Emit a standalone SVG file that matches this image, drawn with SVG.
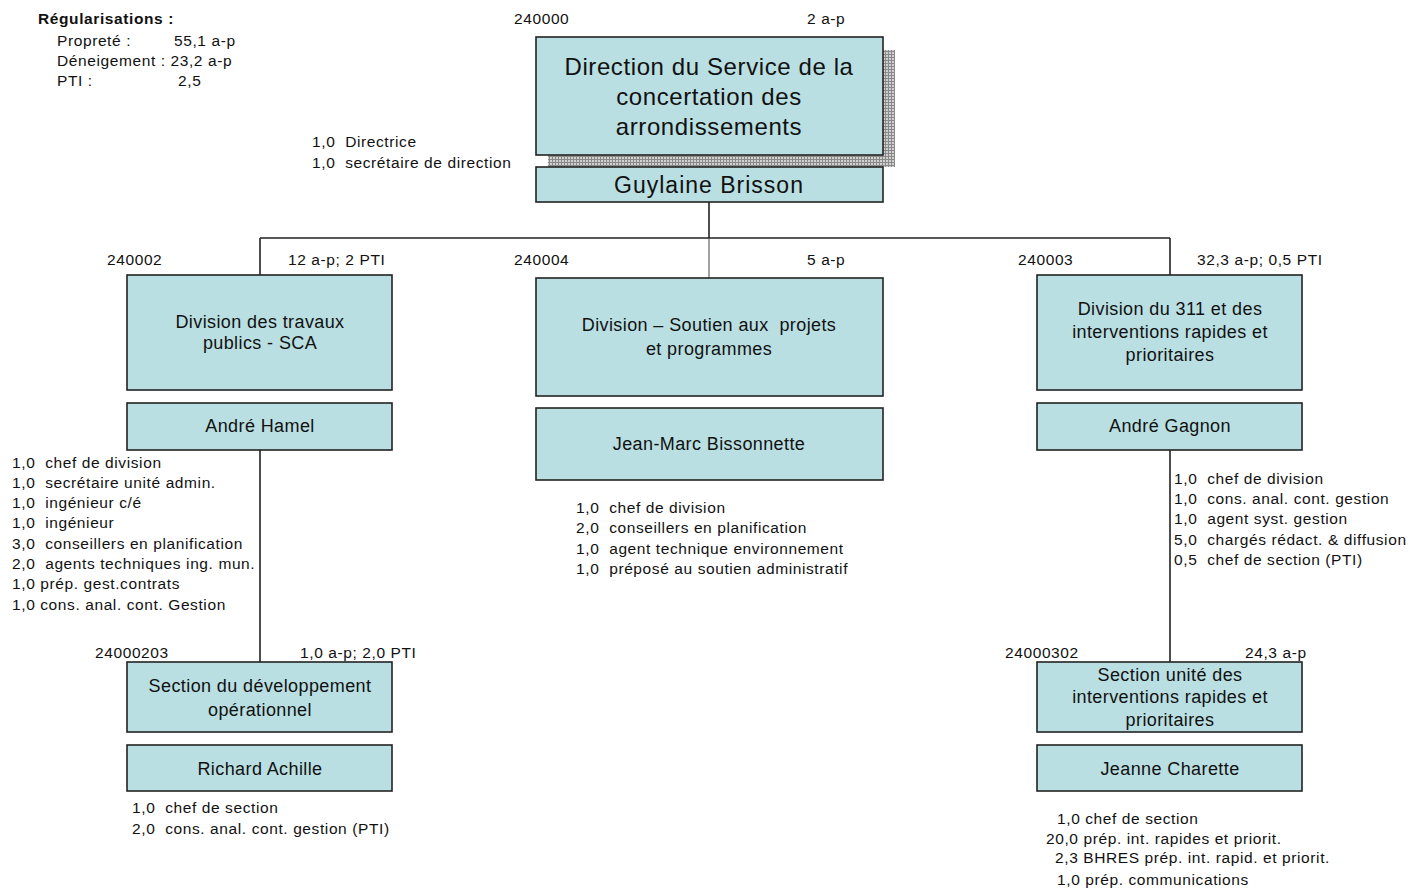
<svg xmlns="http://www.w3.org/2000/svg" width="1410" height="889" viewBox="0 0 1410 889" xml:space="preserve">
<defs>
<pattern id="hatch" width="3" height="3" patternUnits="userSpaceOnUse">
<rect width="3" height="3" fill="#d0d0d0"/>
<path d="M0 0.5H3M0.5 0V3" stroke="#8a8a8a" stroke-width="1"/>
</pattern>
</defs>
<style>
text{font-family:"Liberation Sans",Arial,sans-serif;fill:#111;white-space:pre}
.s{font-size:15.5px;letter-spacing:0.6px}
.b{font-weight:bold}
.m{text-anchor:middle}
.box{fill:#b9dfe2;stroke:#222;stroke-width:1.6}
.t1{font-size:24px;letter-spacing:0.6px}
.t2{font-size:23px;letter-spacing:1px}
.d{font-size:18px;letter-spacing:0.4px}
.c{stroke:#222;stroke-width:1.6;fill:none}
</style>
<rect width="1410" height="889" fill="#fff"/>
<g id="regularisations"><text class="s b" x="38" y="24">Régularisations :</text><text class="s" x="57" y="46">Propreté :</text><text class="s" x="174" y="46">55,1 a-p</text><text class="s" x="57" y="66">Déneigement : 23,2 a-p</text><text class="s" x="57" y="86">PTI :</text><text class="s" x="178" y="86">2,5</text></g>
<g id="connectors"><path class="c" d="M709 202V238M260 238H1170M260 238V275M1170 238V275M260 450V662M1170 450V662"/><path d="M709 238V278" stroke="#444" stroke-width="1" fill="none"/></g>
<g id="direction"><text class="s" x="514" y="24">240000</text><text class="s" x="807" y="24">2 a-p</text><rect x="548" y="50" width="347" height="117" fill="url(#hatch)"/><rect class="box" x="536" y="37" width="347" height="118"/><text class="t1 m" x="709" y="75">Direction du Service de la</text><text class="t1 m" x="709" y="105">concertation des</text><text class="t1 m" x="709" y="135">arrondissements</text><text class="s" x="312" y="147">1,0  Directrice</text><text class="s" x="312" y="168">1,0  secrétaire de direction</text></g>
<g id="guylaine"><rect class="box" x="536" y="167" width="347" height="35"/><text class="t2 m" x="709" y="193">Guylaine Brisson</text></g>
<g id="div-240002"><text class="s" x="107" y="265">240002</text><text class="s" x="288" y="265">12 a-p; 2 PTI</text><rect class="box" x="127" y="275" width="265" height="115"/><text class="d m" x="260" y="328">Division des travaux</text><text class="d m" x="260" y="349">publics - SCA</text></g>
<g id="andre-hamel"><rect class="box" x="127" y="403" width="265" height="47"/><text class="d m" x="260" y="432">André Hamel</text><text class="s" x="12" y="468">1,0  chef de division</text><text class="s" x="12" y="488">1,0  secrétaire unité admin.</text><text class="s" x="12" y="508">1,0  ingénieur c/é</text><text class="s" x="12" y="528">1,0  ingénieur</text><text class="s" x="12" y="549">3,0  conseillers en planification</text><text class="s" x="12" y="569">2,0  agents techniques ing. mun.</text><text class="s" x="12" y="589">1,0 prép. gest.contrats</text><text class="s" x="12" y="610">1,0 cons. anal. cont. Gestion</text></g>
<g id="div-240004"><text class="s" x="514" y="265">240004</text><text class="s" x="807" y="265">5 a-p</text><rect class="box" x="536" y="278" width="347" height="118"/><text class="d m" x="709" y="331">Division – Soutien aux  projets</text><text class="d m" x="709" y="355">et programmes</text></g>
<g id="jean-marc"><rect class="box" x="536" y="408" width="347" height="72"/><text class="d m" x="709" y="450">Jean-Marc Bissonnette</text><text class="s" x="576" y="513">1,0  chef de division</text><text class="s" x="576" y="533">2,0  conseillers en planification</text><text class="s" x="576" y="554">1,0  agent technique environnement</text><text class="s" x="576" y="574">1,0  préposé au soutien administratif</text></g>
<g id="div-240003"><text class="s" x="1018" y="265">240003</text><text class="s" x="1197" y="265">32,3 a-p; 0,5 PTI</text><rect class="box" x="1037" y="275" width="265" height="115"/><text class="d m" x="1170" y="315">Division du 311 et des</text><text class="d m" x="1170" y="338">interventions rapides et</text><text class="d m" x="1170" y="361">prioritaires</text></g>
<g id="andre-gagnon"><rect class="box" x="1037" y="403" width="265" height="47"/><text class="d m" x="1170" y="432">André Gagnon</text><text class="s" x="1174" y="484">1,0  chef de division</text><text class="s" x="1174" y="504">1,0  cons. anal. cont. gestion</text><text class="s" x="1174" y="524">1,0  agent syst. gestion</text><text class="s" x="1174" y="545">5,0  chargés rédact. &amp; diffusion</text><text class="s" x="1174" y="565">0,5  chef de section (PTI)</text></g>
<g id="sec-24000203"><text class="s" x="95" y="658">24000203</text><text class="s" x="300" y="658">1,0 a-p; 2,0 PTI</text><rect class="box" x="127" y="662" width="265" height="70"/><text class="d m" x="260" y="692">Section du développement</text><text class="d m" x="260" y="716">opérationnel</text></g>
<g id="richard-achille"><rect class="box" x="127" y="745" width="265" height="46"/><text class="d m" x="260" y="775">Richard Achille</text><text class="s" x="132" y="813">1,0  chef de section</text><text class="s" x="132" y="834">2,0  cons. anal. cont. gestion (PTI)</text></g>
<g id="sec-24000302"><text class="s" x="1005" y="658">24000302</text><text class="s" x="1245" y="658">24,3 a-p</text><rect class="box" x="1037" y="662" width="265" height="70"/><text class="d m" x="1170" y="681">Section unité des</text><text class="d m" x="1170" y="703">interventions rapides et</text><text class="d m" x="1170" y="726">prioritaires</text></g>
<g id="jeanne-charette"><rect class="box" x="1037" y="745" width="265" height="46"/><text class="d m" x="1170" y="775">Jeanne Charette</text><text class="s" x="1057" y="824">1,0 chef de section</text><text class="s" x="1046" y="844">20,0 prép. int. rapides et priorit.</text><text class="s" x="1055" y="863">2,3 BHRES prép. int. rapid. et priorit.</text><text class="s" x="1057" y="885">1,0 prép. communications</text></g>
</svg>
